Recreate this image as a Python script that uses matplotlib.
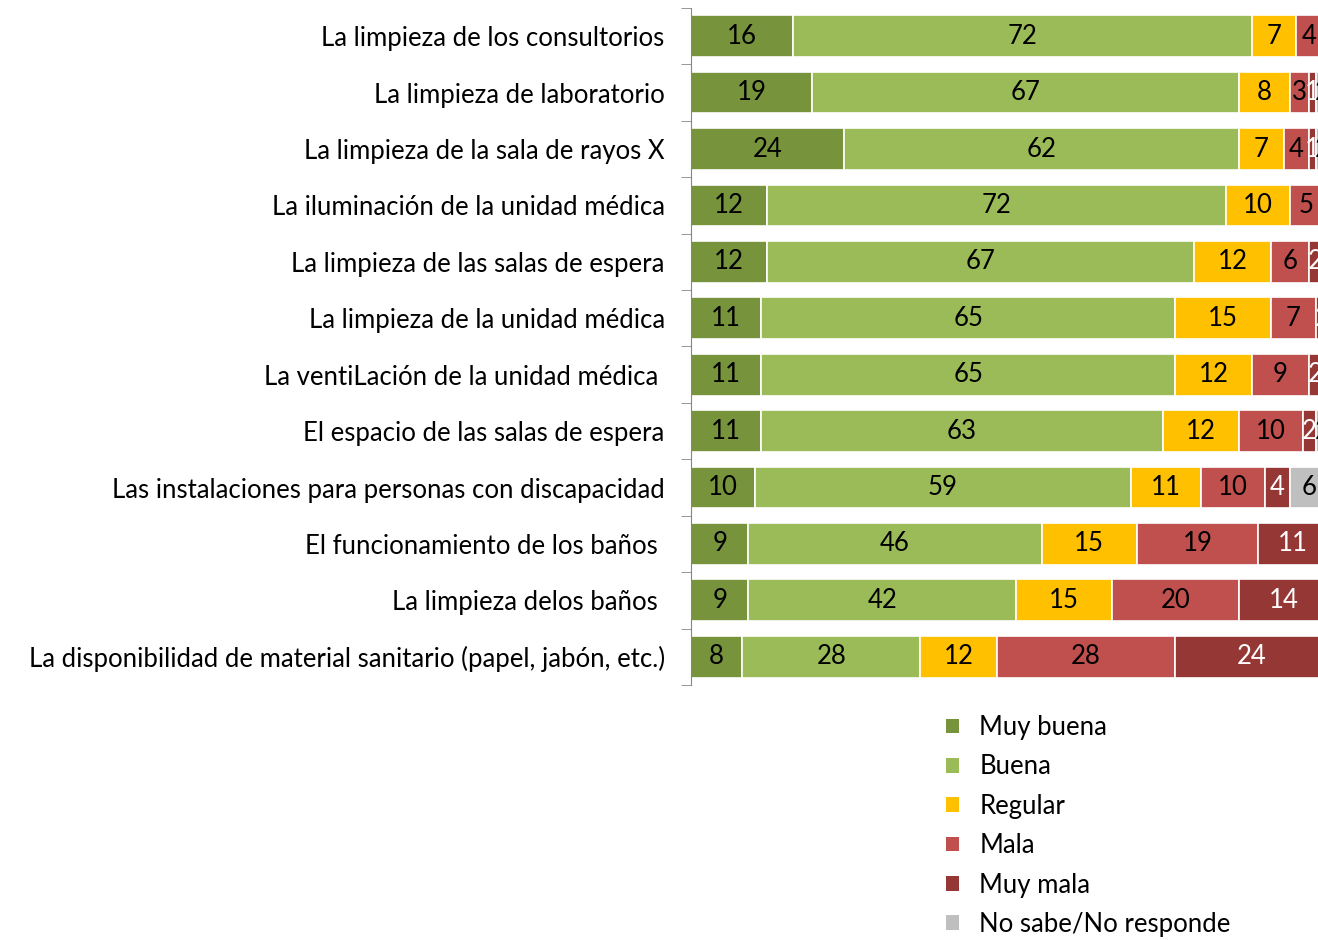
import numpy as np
import matplotlib
matplotlib.use("Agg")
import matplotlib.pyplot as plt
from matplotlib.patches import Patch

plt.rcParams['font.family'] = ['Lato', 'DejaVu Sans']

categories = [
    "La limpieza de los consultorios",
    "La limpieza de laboratorio",
    "La limpieza de la sala de rayos X",
    "La iluminación de la unidad médica",
    "La limpieza de las salas de espera",
    "La limpieza de la unidad médica",
    "La ventiLación de la unidad médica ",
    "El espacio de las salas de espera",
    "Las instalaciones para personas con discapacidad",
    "El funcionamiento de los baños ",
    "La limpieza delos baños ",
    "La disponibilidad de material sanitario (papel, jabón, etc.)",
]

muy_buena = [16, 19, 24, 12, 12, 11, 11, 11, 10, 9, 9, 8]
buena     = [72, 67, 62, 72, 67, 65, 65, 63, 59, 46, 42, 28]
regular   = [7, 8, 7, 10, 12, 15, 12, 12, 11, 15, 15, 12]
mala      = [4, 3, 4, 5, 6, 7, 9, 10, 10, 19, 20, 28]
muy_mala  = [1, 1, 1, 1, 2, 2, 2, 2, 4, 11, 14, 24]
no_sabe   = [0, 2, 2, 0, 1, 0, 1, 2, 6, 0, 0, 0]

series = [
    ("Muy buena", muy_buena, "#77933C", "black"),
    ("Buena", buena, "#9BBB59", "black"),
    ("Regular", regular, "#FFC000", "black"),
    ("Mala", mala, "#C0504D", "black"),
    ("Muy mala", muy_mala, "#953735", "white"),
    ("No sabe/No responde", no_sabe, "#BFBFBF", "black"),
]

fs = 18.5

fig = plt.figure(figsize=(13.18, 9.40), dpi=100)
ax = fig.add_axes([0.5243, 0.2713, 0.4835, 0.7202])

y = np.arange(len(categories))
left = np.zeros(len(categories))
for name, vals, color, tcolor in series:
    vals = np.array(vals, dtype=float)
    ax.barh(y, vals, left=left, height=0.74, color=color,
            edgecolor="white", linewidth=1.2, label=name)
    for yi, (l, v) in enumerate(zip(left, vals)):
        if v > 0:
            ax.text(l + v / 2, yi, f"{int(v)}", ha="center", va="center",
                    fontsize=fs, color=tcolor)
    left += vals

ax.set_xlim(0, 100)
ax.set_ylim(len(categories) - 0.5, -0.5)
ax.set_yticks(y)
ax.set_yticklabels(categories, fontsize=fs)
ax.tick_params(axis="y", which="major", length=0, pad=19)
ax.set_yticks(np.arange(-0.5, len(categories), 1), minor=True)
ax.tick_params(axis="y", which="minor", length=7, color="#868686")
ax.xaxis.set_visible(False)
for s in ["top", "right", "bottom"]:
    ax.spines[s].set_visible(False)
ax.spines["left"].set_color("#868686")

handles = [Patch(facecolor=c, edgecolor="none") for _, _, c, _ in series]
labels = [n for n, _, _, _ in series]
fig.legend(handles, labels, loc="upper left", bbox_to_anchor=(0.700, 0.264),
           frameon=False, fontsize=fs, handlelength=0.5, handleheight=0.5,
           handletextpad=0.8, labelspacing=0.56)

fig.savefig("out.png", dpi=100)
